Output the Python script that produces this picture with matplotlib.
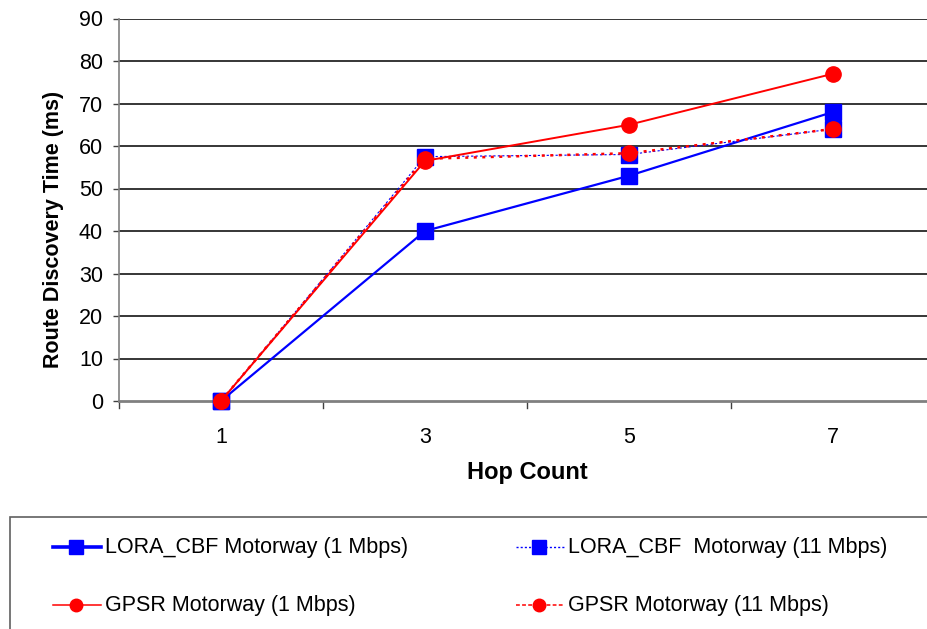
import matplotlib
matplotlib.use("Agg")
import matplotlib.pyplot as plt
from matplotlib.lines import Line2D
from matplotlib.patches import Rectangle

plt.rcParams['font.family'] = ['Liberation Sans', 'DejaVu Sans']

hops = ["1", "3", "5", "7"]
lora_1 = [0, 40, 53, 68]
lora_11 = [0, 57.5, 58, 64]
gpsr_1 = [0, 56.5, 65, 77]
gpsr_11 = [0, 57, 58.3, 64]
labels = ["LORA_CBF Motorway (1 Mbps)", "LORA_CBF  Motorway (11 Mbps)",
          "GPSR Motorway (1 Mbps)", "GPSR Motorway (11 Mbps)"]
yticks = [0, 10, 20, 30, 40, 50, 60, 70, 80, 90]

W, H = 927, 629
fig = plt.figure(figsize=(W / 100, H / 100), dpi=100)
ax = fig.add_axes([119 / W, (H - 401) / H, 1 - 119 / W, (401 - 18.5) / H])

x = list(range(len(hops)))
styles = [
    dict(color='#0000ff', lw=1.6, ls='-', marker='s', ms=11),
    dict(color='#0000ff', lw=0.8, ls=(0, (2, 2)), marker='s', ms=11),
    dict(color='#ff0000', lw=1.4, ls='-', marker='o', ms=11),
    dict(color='#ff0000', lw=1.8, ls=(0, (1.2, 2.2)), marker='o', ms=11),
]
for vals, st in zip([lora_1, lora_11, gpsr_1, gpsr_11], styles):
    ax.plot(x, vals, color=st['color'], lw=st['lw'], ls=st['ls'],
            marker=st['marker'], ms=st['ms'], mec=st['color'], mfc=st['color'],
            clip_on=False, zorder=3)

ax.set_xlim(-0.5, (W - 221) / 204)
ax.set_ylim(0, 90)
ax.set_yticks(yticks)
ax.set_yticklabels([str(v) for v in yticks], fontsize=15.5)
ax.set_xticks(x)
ax.set_xticklabels(hops, fontsize=15.5)
ax.tick_params(axis='x', length=0, pad=19)
ax.tick_params(axis='y', length=4.5, width=1, color='#404040', pad=7)
for b in [-0.5, 0.5, 1.5, 2.5]:
    ax.plot([b, b], [0, -1.6], color='#404040', lw=1, clip_on=False, zorder=2)
for v in yticks[1:]:
    ax.axhline(v, color='black', lw=1.1, zorder=1)
for s in ['top', 'right']:
    ax.spines[s].set_visible(False)
ax.spines['left'].set_color('#808080')
ax.spines['left'].set_linewidth(1.2)
ax.spines['bottom'].set_color('#808080')
ax.spines['bottom'].set_linewidth(2)

fig.text(54 / W, 1 - 229 / H, "Route Discovery Time (ms)", rotation=90,
         ha='center', va='center', fontsize=15.5, fontweight='bold')
fig.text(527 / W, 1 - 473 / H, "Hop Count", ha='center', va='center',
         fontsize=17, fontweight='bold')

# legend box
fig.patches.append(Rectangle((10 / W, -0.05), 1.0, (H - 517) / H + 0.05,
                             transform=fig.transFigure, fill=False,
                             edgecolor='#606060', lw=1.2))
leg_styles = [
    dict(lw=2.6, ls='-', ms=10),
    dict(lw=1.0, ls=(0, (1.5, 1.5)), ms=10),
    dict(lw=1.1, ls='-', ms=9),
    dict(lw=1.1, ls=(0, (2.5, 1.5)), ms=9),
]
leg_pos = [(53, 547), (516, 547), (53, 605), (516, 605)]
for (px, py), st, lst, lab in zip(leg_pos, styles, leg_styles, labels):
    yy = 1 - py / H
    fig.add_artist(Line2D([px / W, (px + 48) / W], [yy, yy], color=st['color'],
                          lw=lst['lw'], ls=lst['ls'], transform=fig.transFigure))
    fig.add_artist(Line2D([(px + 23) / W], [yy], color=st['color'],
                          marker=st['marker'], ms=lst['ms'], mec=st['color'],
                          mfc=st['color'], ls='none', transform=fig.transFigure))
    fig.text((px + 52) / W, yy, lab, ha='left', va='center', fontsize=15.5)

fig.savefig("out.png", dpi=100)
